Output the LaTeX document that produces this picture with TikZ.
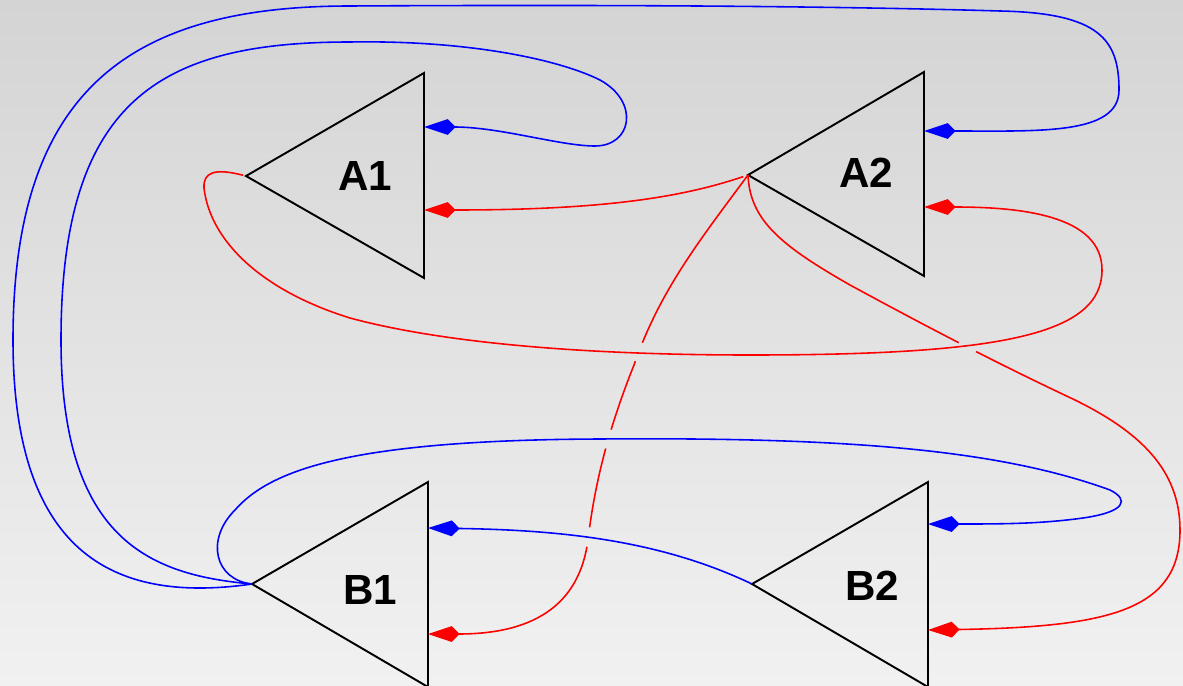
\documentclass[tikz,border=0pt]{standalone}
\usepackage{fontspec}
\setmainfont{Liberation Sans}
\usetikzlibrary{arrows.meta}
\definecolor{bgtop}{RGB}{212,212,212}
\definecolor{bgbottom}{RGB}{241,241,241}
\definecolor{wireblue}{RGB}{0,0,255}
\definecolor{wirered}{RGB}{255,0,0}
\tikzset{
  gate/.style={draw=black,line width=1.1pt,line join=miter},
  gatelabel/.style={font=\fontsize{24}{28}\selectfont\bfseries,inner sep=0pt},
  wire/.style={line width=0.9pt,-{Kite[length=18pt,width=9pt,inset=4.5pt]}},
  bluewire/.style={wire,wireblue},
  redwire/.style={wire,wirered}
}
\begin{document}
\begin{tikzpicture}[x=0.02cm,y=-0.02cm]
  \useasboundingbox (0,0) rectangle (1183,686);
  \shade[top color=bgtop,bottom color=bgbottom] (0,0) rectangle (1183,686);

  \coordinate (A1o) at (246,176);
  \coordinate (A1b) at (424,127);
  \coordinate (A1r) at (424,210);
  \coordinate (A2o) at (748,175);
  \coordinate (A2b) at (924,131);
  \coordinate (A2r) at (924,207);
  \coordinate (B1o) at (252,584);
  \coordinate (B1b) at (428,528);
  \coordinate (B1r) at (428,634);
  \coordinate (B2o) at (752,584);
  \coordinate (B2b) at (928,524);
  \coordinate (B2r) at (928,630);

  \draw[gate] (A1o) -- (424,73) -- (424,278) -- cycle;
  \draw[gate] (A2o) -- (924,72) -- (924,276) -- cycle;
  \draw[gate] (B1o) -- (428,482) -- (428,687) -- cycle;
  \draw[gate] (B2o) -- (928,482) -- (928,687) -- cycle;
  \node[gatelabel] (A1) at (365,176) {A1};
  \node[gatelabel] (A2) at (866,173) {A2};
  \node[gatelabel] (B1) at (370,590) {B1};
  \node[gatelabel] (B2) at (872,586) {B2};

  \draw[bluewire] (B1o) .. controls (150,575) and (61,540) .. (61,340)
    .. controls (61,100) and (160,42) .. (350,42)
    .. controls (470,40) and (560,60) .. (600,80)
    .. controls (640,102) and (632,146) .. (595,146)
    .. controls (560,146) and (500,127) .. (A1b);
  \draw[bluewire] (B1o) .. controls (120,603) and (13,560) .. (13,340)
    .. controls (13,90) and (130,6) .. (350,6)
    .. controls (700,4) and (900,8) .. (1000,11)
    .. controls (1100,13) and (1119,40) .. (1119,90)
    .. controls (1119,135) and (1040,131) .. (A2b);
  \draw[bluewire] (B1o) .. controls (215,580) and (205,540) .. (235,510)
    .. controls (270,470) and (350,440) .. (600,439)
    .. controls (850,437) and (1000,450) .. (1110,490)
    .. controls (1130,500) and (1125,512) .. (1083,518)
    .. controls (1040,524) and (1000,524) .. (B2b);
  \draw[bluewire] (B2o) .. controls (660,540) and (560,530) .. (B1b);

  \draw[redwire,shorten <=0.1cm] (A2o) .. controls (680,198) and (600,210) .. (A1r);
  \draw[redwire,shorten <=0.06cm] (A1o) .. controls (215,168) and (203,172) .. (204,188)
    .. controls (210,240) and (260,290) .. (350,318)
    .. controls (450,345) and (600,355) .. (750,355)
    .. controls (1000,355) and (1102,335) .. (1102,270)
    .. controls (1102,215) and (1020,207) .. (A2r);
  \begin{scope}[even odd rule]
    \clip (0,0) rectangle (1183,686)
      (639,352) circle[radius=0.2cm] (608,439) circle[radius=0.2cm]
      (588,537) circle[radius=0.2cm];
    \draw[redwire] (A2o) .. controls (700,240) and (660,290) .. (634,365)
      .. controls (610,425) and (595,480) .. (588,540)
      .. controls (580,600) and (540,634) .. (B1r);
  \end{scope}
  \begin{scope}[even odd rule]
    \clip (0,0) rectangle (1183,686) (968,346) circle[radius=0.2cm];
    \draw[redwire] (A2o) .. controls (750,220) and (780,245) .. (850,285)
      .. controls (920,323) and (990,360) .. (1075,400)
      .. controls (1140,432) and (1180,470) .. (1180,530)
      .. controls (1180,610) and (1110,627) .. (B2r);
  \end{scope}
\end{tikzpicture}
\end{document}
